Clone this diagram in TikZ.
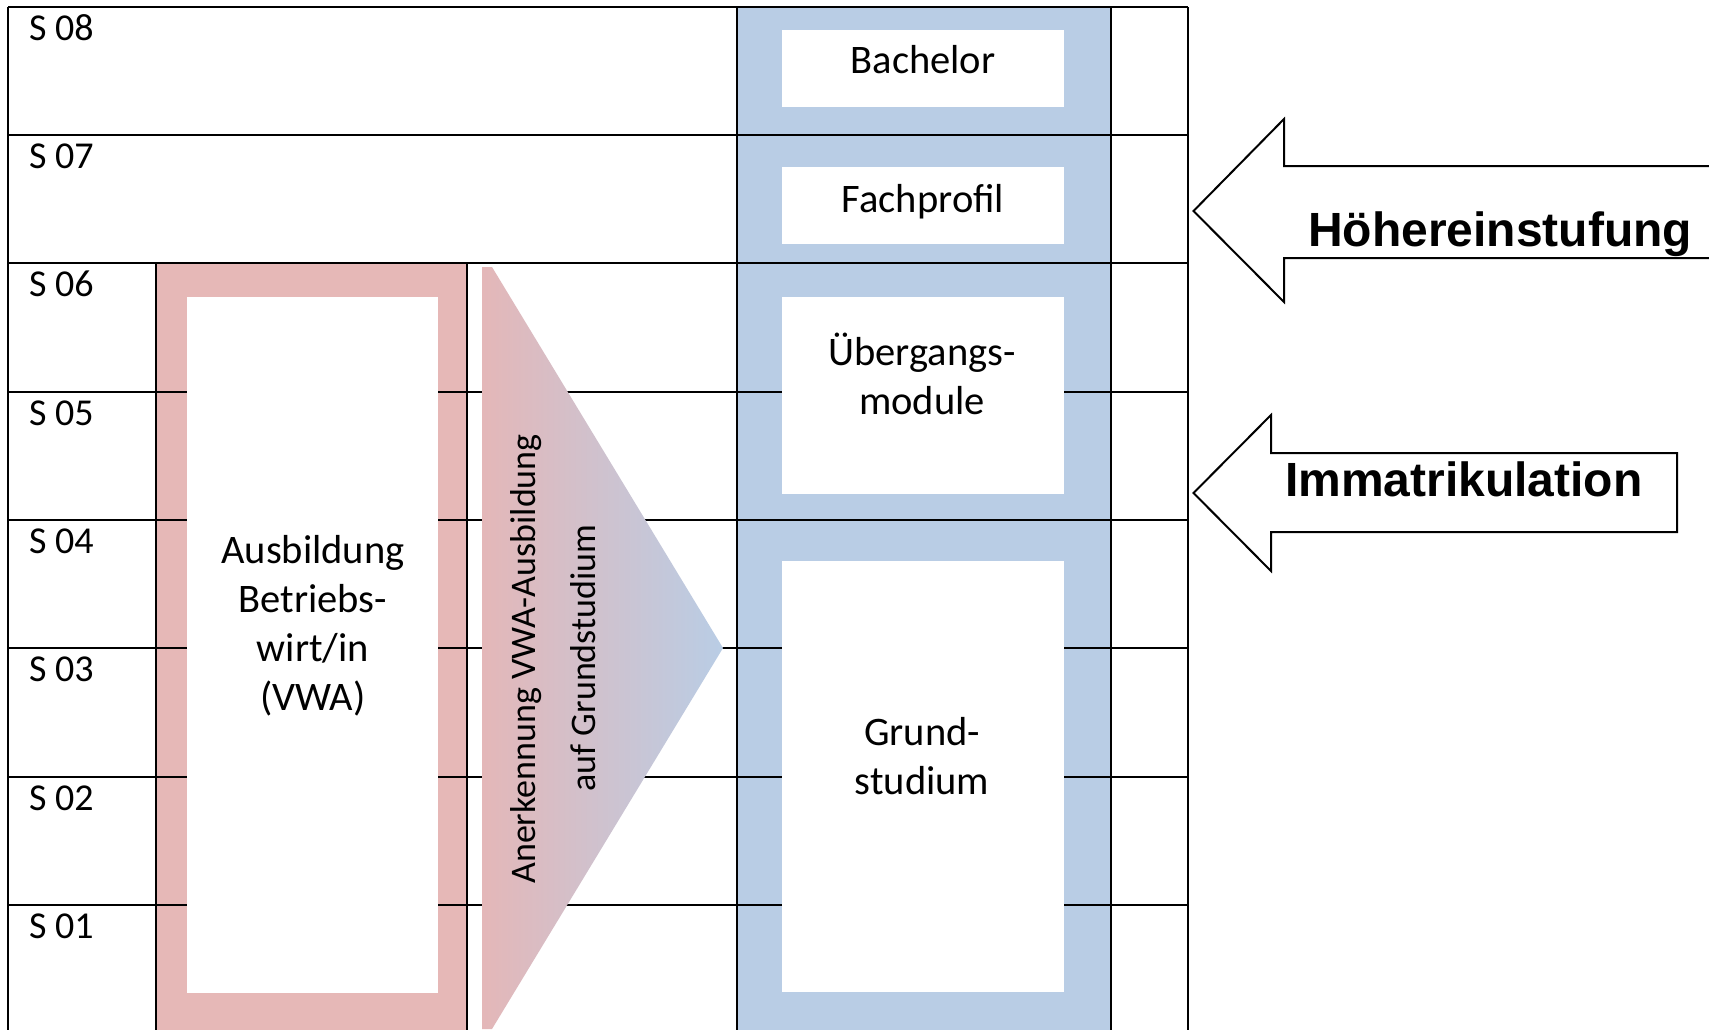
\documentclass[tikz,border=0pt]{standalone}
\usepackage{fontspec}
\setmainfont{Carlito}
\newfontfamily\arrowfont{Liberation Sans}
\definecolor{redband}{HTML}{E6B8B7}
\definecolor{blueband}{HTML}{B9CDE5}
\definecolor{gradleft}{HTML}{E4B7B8}
\begin{document}
\begin{tikzpicture}[x=1pt,y=-1pt,
  gridline/.style={line width=2.2pt, draw=black},
  semlabel/.style={anchor=base west, font=\fontsize{38}{45}\selectfont, inner sep=0pt},
  boxtext/.style={anchor=base, font=\fontsize{40.5}{49}\selectfont, inner sep=0pt},
  rottext/.style={anchor=base, rotate=90, font=\fontsize{36}{44}\selectfont, inner sep=0pt},
  arrowtext/.style={anchor=base west, font=\arrowfont\bfseries\fontsize{48}{58}\selectfont, inner sep=0pt},
  blockarrow/.style={draw=black, line width=2pt, fill=white, line join=miter},
  innerbox/.style={fill=white}
]
\useasboundingbox (0,0) rectangle (1709,1029);
\clip (0,0) rectangle (1709,1029);
\fill[white] (0,0) rectangle (1709,1029);

% coloured bands
\fill[redband] (157,263) rectangle (466,1040);
\fill[blueband] (737,7) rectangle (1111,1040);

% grid
\draw[gridline] (8,7) -- (1188,7);
\foreach \yy in {135,263,392,520,648,777,905}
  \draw[gridline] (8,\yy) -- (1188,\yy);
\foreach \xx in {8,737,1111,1188}
  \draw[gridline] (\xx,7) -- (\xx,1040);
\foreach \xx in {156,467}
  \draw[gridline] (\xx,263) -- (\xx,1040);

% white inner boxes
\fill[innerbox] (187,297) rectangle (438,993);
\fill[innerbox] (782,30) rectangle (1064,107);
\fill[innerbox] (782,167) rectangle (1064,244);
\fill[innerbox] (782,297) rectangle (1064,494);
\fill[innerbox] (782,561) rectangle (1064,992);

% gradient arrow
\shade[left color=gradleft, right color=blueband]
  (482,267) -- (492,267) -- (723,648) -- (492,1029) -- (482,1029) -- cycle;

% semester labels
\node[semlabel] (s08) at (29,40) {S 08};
\node[semlabel] (s07) at (29,168) {S 07};
\node[semlabel] (s06) at (29,296) {S 06};
\node[semlabel] (s05) at (29,425) {S 05};
\node[semlabel] (s04) at (29,553) {S 04};
\node[semlabel] (s03) at (29,681) {S 03};
\node[semlabel] (s02) at (29,810) {S 02};
\node[semlabel] (s01) at (29,938) {S 01};

% box texts
\node[boxtext] (bach) at (923,73) {Bachelor};
\node[boxtext] (fach) at (923,212) {Fachprofil};
\node[boxtext] (ueb1) at (922,365) {Übergangs-};
\node[boxtext] (ueb2) at (922,414) {module};
\node[boxtext] (aus1) at (313,563) {Ausbildung};
\node[boxtext] (aus2) at (313,612) {Betriebs-};
\node[boxtext] (aus3) at (313,661) {wirt/in};
\node[boxtext] (aus4) at (313,710) {(VWA)};
\node[boxtext] (gru1) at (922,745) {Grund-};
\node[boxtext] (gru2) at (922,794) {studium};

% rotated text
\node[rottext] (ank1) at (535,659) {Anerkennung VWA-Ausbildung};
\node[rottext] (ank2) at (595,658) {auf Grundstudium};

% block arrows
\draw[blockarrow] (1712,166) -- (1284,166) -- (1284,119) -- (1193.5,211) -- (1284,302) -- (1284,258) -- (1712,258);
\draw[blockarrow] (1677,453) -- (1271,453) -- (1271,415) -- (1193.5,493) -- (1271,571) -- (1271,532) -- (1677,532) -- cycle;
\node[arrowtext] (hoeher) at (1308,246) {Höhereinstufung};
\node[arrowtext] (immat) at (1285,496) {Immatrikulation};
\end{tikzpicture}
\end{document}
